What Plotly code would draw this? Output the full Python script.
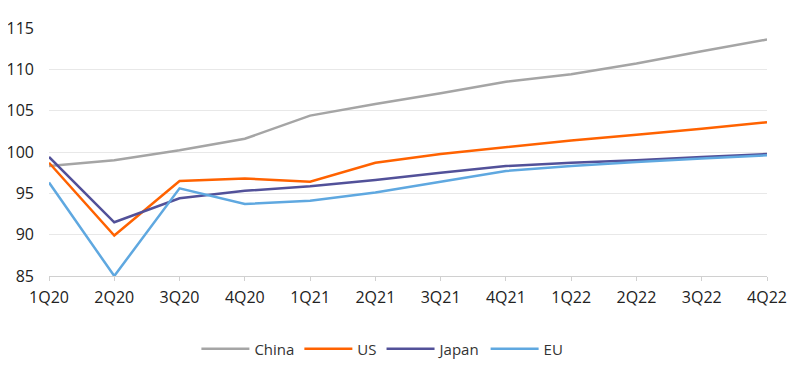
import plotly.graph_objects as go

quarters = ["1Q20", "2Q20", "3Q20", "4Q20", "1Q21", "2Q21", "3Q21", "4Q21",
            "1Q22", "2Q22", "3Q22", "4Q22"]
china = [98.3, 99.0, 100.2, 101.6, 104.4, 105.8, 107.1, 108.5, 109.4, 110.7, 112.2, 113.6]
us = [98.7, 89.9, 96.5, 96.8, 96.4, 98.7, 99.75, 100.6, 101.4, 102.1, 102.8, 103.6]
japan = [99.4, 91.5, 94.4, 95.3, 95.85, 96.6, 97.5, 98.3, 98.7, 99.0, 99.4, 99.75]
eu = [96.3, 85.0, 95.6, 93.7, 94.1, 95.1, 96.4, 97.7, 98.3, 98.8, 99.2, 99.6]

series = [("China", china, "#a5a5a5"), ("US", us, "#ff6200"),
          ("Japan", japan, "#525199"), ("EU", eu, "#5fa8e0")]

fig = go.Figure()
for name, vals, color in series:
    fig.add_trace(go.Scatter(x=quarters, y=vals, name=name, mode="lines",
                             line=dict(color=color, width=2.5)))

fig.update_layout(
    width=800, height=367,
    margin=dict(l=41, r=41, t=20, b=99, autoexpand=False),
    plot_bgcolor="white", paper_bgcolor="white",
    font=dict(family="Open Sans, sans-serif", color="#222222"),
    showlegend=True,
    legend=dict(orientation="h", x=0.468, xanchor="center", xref="container",
                y=0.071, yanchor="middle", yref="container",
                font=dict(size=15, color="#333333"),
                itemwidth=48, tracegroupgap=0),
)
fig.update_xaxes(type="category", range=[0, 11], showgrid=False,
                 showline=True, linecolor="#d0d0d0", linewidth=1,
                 ticks="outside", ticklen=4, tickcolor="#d0d0d0",
                 tickfont=dict(size=16, color="#222222"), tickangle=0,
                 ticklabelstandoff=3)
fig.update_yaxes(range=[85, 115], dtick=5, showgrid=True, gridcolor="#e8e8e8",
                 gridwidth=1, zeroline=False, showline=False,
                 tickfont=dict(size=16, color="#222222"),
                 ticklabelstandoff=14)

fig.write_html("out.html")
